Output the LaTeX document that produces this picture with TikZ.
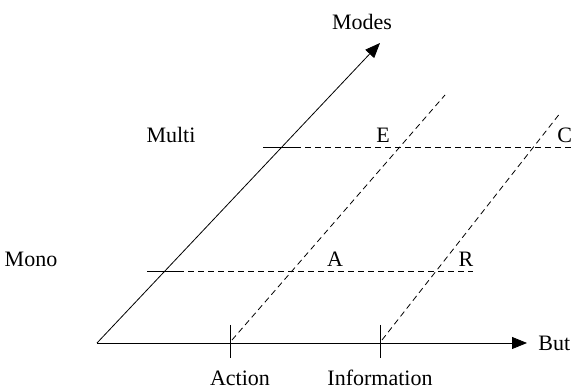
\documentclass[tikz,border=0pt]{standalone}
\usepackage{fontspec}
\setmainfont{Liberation Serif}
\usetikzlibrary{arrows.meta}

\begin{document}
\begin{tikzpicture}[x=1pt, y=1pt, line width=0.8pt,
    lbl/.style={font=\fontsize{22}{26}\selectfont, inner sep=0pt},
    axis/.style={-{Triangle[length=15pt,width=12pt]}},
    guide/.style={dash pattern=on 6pt off 4pt}]
        \useasboundingbox (0,0) rectangle (571,390);

        % Axes
        \coordinate (O) at (97,47);
        \coordinate (modes) at (380,347);
        \coordinate (but) at (527,47);
        \draw[axis] (O) -- (modes);
        \draw[axis] (O) -- (but);
        \node[lbl] (modeslbl) at (362,368) {Modes};
        \node[lbl, anchor=west] (butlbl) at (538,47) {But};

        % Ticks on the modes axis
        \coordinate (monoL) at (147,119);
        \coordinate (monoR) at (178,119);
        \coordinate (multiL) at (263,243);
        \coordinate (multiR) at (295,243);
        \draw (monoL) -- (monoR);
        \draw (multiL) -- (multiR);
        \node[lbl] (mono) at (31,131) {Mono};
        \node[lbl] (multi) at (171,255) {Multi};

        % Ticks on the goal axis
        \coordinate (actT) at (230,65);
        \coordinate (actB) at (230,32);
        \coordinate (infT) at (380,65);
        \coordinate (infB) at (380,32);
        \draw (actT) -- (actB);
        \draw (infT) -- (infB);
        \node[lbl] (action) at (240,12) {Action};
        \node[lbl] (info) at (380,12) {Information};

        % Dashed grid
        \coordinate (monoEnd) at (473,119);
        \coordinate (multiEnd) at (571,243);
        \coordinate (actS) at (232,50);
        \coordinate (actE) at (445,295);
        \coordinate (infS) at (382,50);
        \coordinate (infE) at (561,278);
        \draw[guide] (monoR) -- (monoEnd);
        \draw[guide] (multiR) -- (multiEnd);
        \draw[guide] (actS) -- (actE);
        \draw[guide] (infS) -- (infE);

        % Cells
        \node[lbl] (A) at (335,131) {A};
        \node[lbl] (R) at (466,131) {R};
        \node[lbl] (E) at (383,255) {E};
        \node[lbl, anchor=west] (C) at (557,255) {C};
\end{tikzpicture}
\end{document}
